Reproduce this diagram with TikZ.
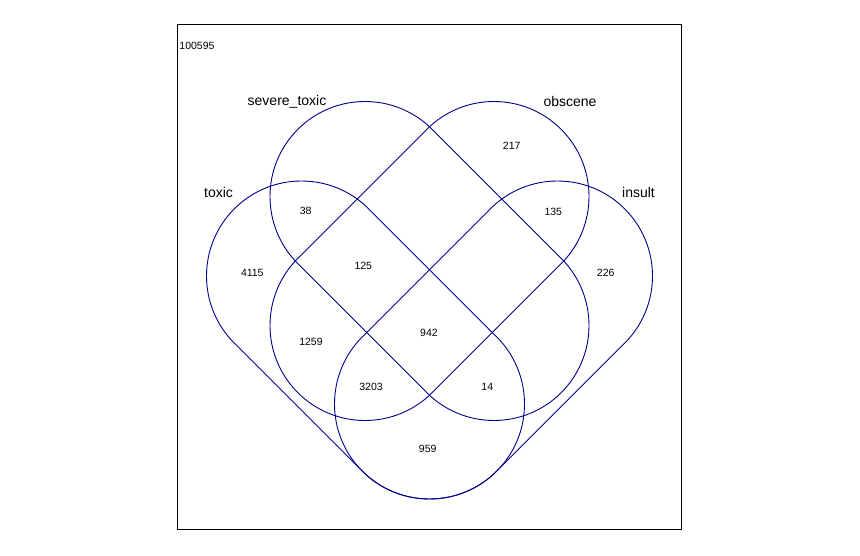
\documentclass[tikz,border=0pt]{standalone}
\usepackage{fontspec}
\setmainfont{Liberation Sans}
\usetikzlibrary{calc}
\definecolor{vennblue}{RGB}{0,0,139}
\begin{document}
\begin{tikzpicture}[x=1pt,y=1pt,
  setshape/.style={draw=vennblue, line width=0.9pt},
  setlabel/.style={font=\fontsize{14}{16}\selectfont, inner sep=0pt, anchor=base},
  count/.style={font=\fontsize{10.5}{12}\selectfont, inner sep=0pt}]
\useasboundingbox (0,0) rectangle (860,555);
\fill[white] (0,0) rectangle (860,555);
\draw[line width=0.9pt] (177,26) rectangle (681.5,531);
% circle centres
\coordinate (T) at (301.5,279);
\coordinate (I) at (557.5,279);
\coordinate (B) at (429.5,151);
\coordinate (S) at (365,358.5);
\coordinate (O) at (494,358.5);
\coordinate (L) at (365,229.5);
\coordinate (R) at (494,229.5);
% toxic
\draw[setshape] ($(T)+(45:95)$) arc[start angle=45,end angle=225,radius=95]
  -- ($(B)+(225:95)$) arc[start angle=225,end angle=405,radius=95] -- cycle;
% severe_toxic
\draw[setshape] ($(S)+(45:95)$) arc[start angle=45,end angle=225,radius=95]
  -- ($(R)+(225:95)$) arc[start angle=225,end angle=405,radius=95] -- cycle;
% obscene
\draw[setshape] ($(O)+(-45:95)$) arc[start angle=-45,end angle=135,radius=95]
  -- ($(L)+(135:95)$) arc[start angle=135,end angle=315,radius=95] -- cycle;
% insult
\draw[setshape] ($(I)+(-45:95)$) arc[start angle=-45,end angle=135,radius=95]
  -- ($(B)+(135:95)$) arc[start angle=135,end angle=315,radius=95] -- cycle;
% labels
\node[setlabel] (lsev) at (287,449) {severe\_toxic};
\node[setlabel] (lobs) at (570,448.5) {obscene};
\node[setlabel] (ltox) at (218.5,357.5) {toxic};
\node[setlabel] (lins) at (638.5,357.5) {insult};
% counts
\node[count] (ntot) at (197,509.5) {100595};
\node[count] (n217) at (511.7,409.3) {217};
\node[count] (n38) at (305.7,344.3) {38};
\node[count] (n135) at (553.3,342.7) {135};
\node[count] (n4115) at (252.3,281.7) {4115};
\node[count] (n125) at (363.3,289.3) {125};
\node[count] (n226) at (605.7,281.7) {226};
\node[count] (n942) at (429,221.7) {942};
\node[count] (n1259) at (311,212.7) {1259};
\node[count] (n3203) at (371,167.7) {3203};
\node[count] (n14) at (487.3,167.7) {14};
\node[count] (n959) at (427.7,105.7) {959};
\end{tikzpicture}
\end{document}
